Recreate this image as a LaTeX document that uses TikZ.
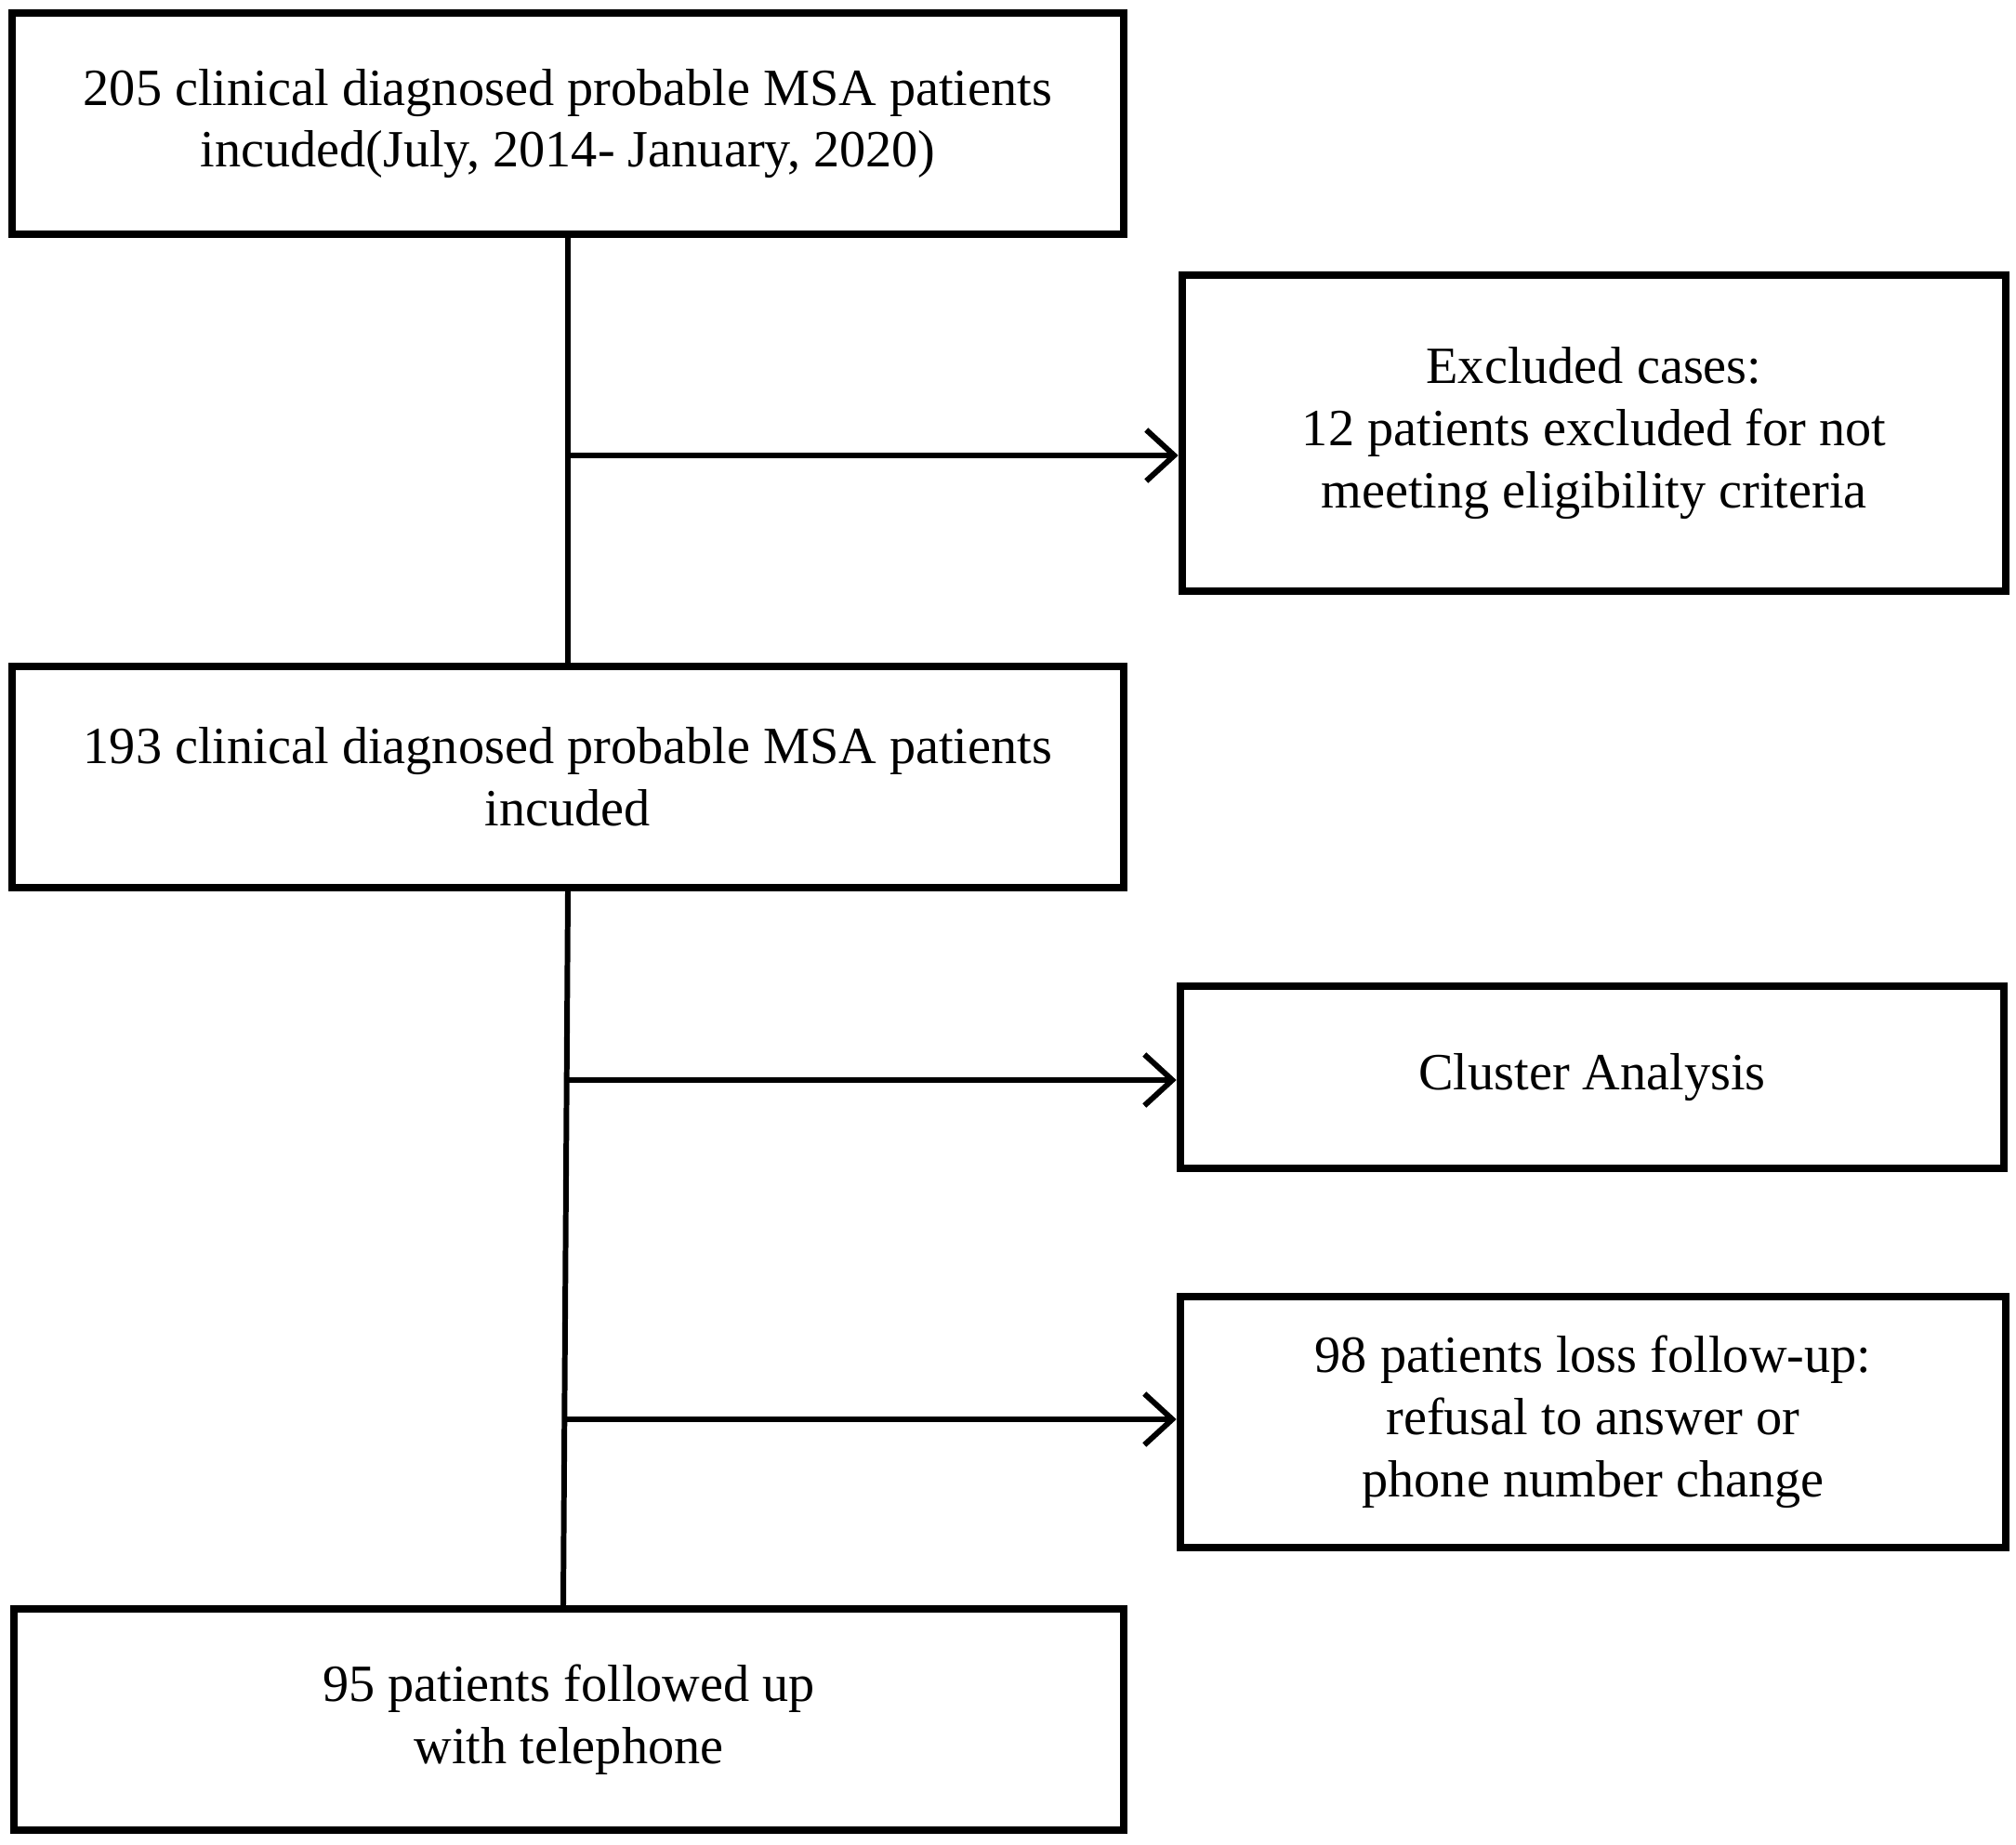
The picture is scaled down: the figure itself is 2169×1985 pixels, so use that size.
\documentclass[tikz,border=0pt]{standalone}
\usepackage{fontspec}
\setmainfont{Liberation Serif}
\usetikzlibrary{arrows.meta}

\begin{document}
\begin{tikzpicture}[x=0.01cm,y=-0.01cm]
\tikzstyle{box}=[draw=black,line width=2.3pt,inner sep=0pt,align=center,font=\fontsize{16}{19}\selectfont]
\useasboundingbox (0,0) rectangle (2169,1985);
\begin{scope}
    \node[box,minimum width=11.96cm,minimum height=2.38cm] (a) at (611,133) {205 clinical diagnosed probable MSA patients\\incuded(July, 2014- January, 2020)};
    \node[box,minimum width=8.86cm,minimum height=3.40cm] (b) at (1715,466) {Excluded cases:\\12 patients excluded for not\\meeting eligibility criteria};
    \node[box,minimum width=11.96cm,minimum height=2.38cm] (c) at (611,836) {193 clinical diagnosed probable MSA patients\\incuded};
    \node[box,minimum width=8.86cm,minimum height=1.96cm] (d) at (1713,1159) {Cluster Analysis};
    \node[box,minimum width=8.88cm,minimum height=2.70cm] (e) at (1714,1530) {98 patients loss follow-up:\\refusal to answer or\\phone number change};
    \node[box,minimum width=11.94cm,minimum height=2.38cm] (f) at (612,1850) {95 patients followed up\\with telephone};
    \coordinate (g) at (611,490);
    \coordinate (h) at (609,1162);
    \coordinate (i) at (606,1527);
\end{scope}

\begin{scope}[>={Straight Barb[length=0.3cm,width=0.55cm]},every edge/.style={draw=black,line width=1.7pt}]
    \path [-] (a.south) edge (c.north);
    \path [-] (c.south) edge (f.north west -| i);
    \path [->] (g) edge (g -| b.west);
    \path [->] (h) edge (h -| d.west);
    \path [->] (i) edge (i -| e.west);
\end{scope}
\end{tikzpicture}
\end{document}
